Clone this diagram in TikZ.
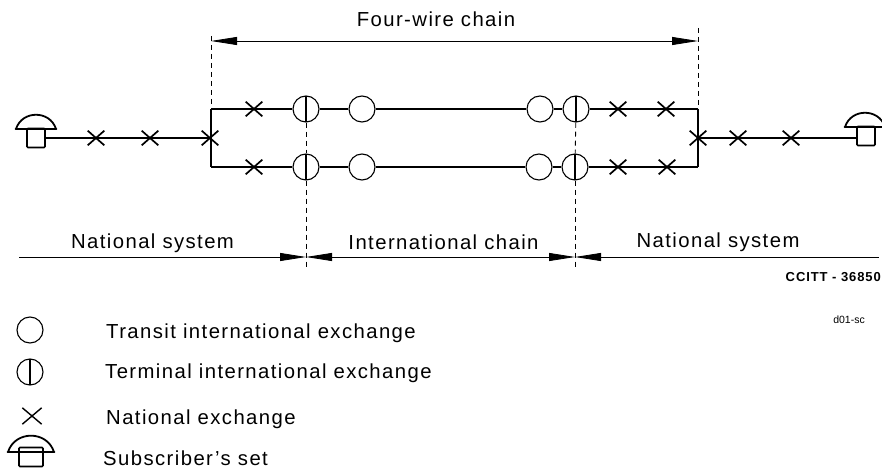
\documentclass[tikz,border=0pt]{standalone}
\usepackage{fontspec}
\setmainfont[LetterSpace=7]{Liberation Sans}
\usetikzlibrary{arrows.meta,shapes.misc}
\tikzset{
  pics/phoneDome/.style={code={
    \draw[line width=1.8pt,line join=round] (-20,7) .. controls (-14,-12) and (14,-12) .. (20,7) -- cycle;
    \draw[line width=2.8pt,line cap=round] (-20,7) -- (-11,7) (11,7) -- (20,7);
  }}
}
\begin{document}
\begin{tikzpicture}
[x=1pt,y=-1pt,
  lineDecorate/.style={-,line width=1.5pt},%
  dashDecorate/.style={-,dashed,line width=0.9pt,dash pattern=on 5pt off 4pt},%
  spanDecorate/.style={line width=0.8pt},%
  spanTip/.style={{Stealth[inset=0pt,length=26pt,width=8pt]}-{Stealth[inset=0pt,length=26pt,width=8pt]}},%
  transitNode/.style={shape=circle,inner sep=0pt,minimum size=26pt,draw,line width=1.1pt},%
  terminalNode/.style={transitNode,path picture={\draw[line width=1.5pt] (path picture bounding box.north) -- (path picture bounding box.south);}},%
  nationalNode/.style={shape=cross out,inner sep=0pt,minimum width=15pt,minimum height=13pt,draw,line width=1.7pt},%
  phoneBody/.style={shape=rectangle,rounded corners=1pt,inner sep=0pt,minimum width=18pt,minimum height=19pt,draw,line width=1.7pt},%
  textDecorate/.style={font=\fontsize{20.3}{24}\selectfont,inner sep=0pt}]
\useasboundingbox (0,0) rectangle (882,470);
%% exchanges on the chain
\foreach \nodename/\x/\y in {
  termTopL/306/109, termBotL/306/167, termTopR/576/109, termBotR/575/167}
{
  \node (\nodename) at (\x,\y) [terminalNode] {};
}
\foreach \nodename/\x/\y in {
  transTopL/362/109, transBotL/362/167, transTopR/540/109, transBotR/539/167}
{
  \node (\nodename) at (\x,\y) [transitNode] {};
}
\foreach \nodename/\x/\y in {
  natA/96/138, natB/150/138, natC/210/138, natD/254/109, natE/254/167,
  natF/618/109, natG/666/109, natH/618/167, natI/667/167,
  natJ/698/138, natK/738/138, natL/791/138}
{
  \node (\nodename) at (\x,\y) [nationalNode] {};
}
%% subscriber sets
\node (phoneL) at (36,138) [phoneBody] {};
\node (phoneR) at (866,136) [phoneBody] {};
\pic at (36,122) {phoneDome};
\pic at (865,120) {phoneDome};
%% free ends and corners
\foreach \nodename/\x/\y in {
  cornerTopL/211/109, cornerBotL/211/167, cornerTopR/698/109, cornerBotR/698/167,
  dashTopL/211/36, dashTopR/698/28, dashBotL/306/270, dashBotR/575/267,
  spanTopL/211/41, spanTopR/698/41, spanBotA/19/257, spanBotB/306/257,
  spanBotC/575/257, spanBotD/879/257}
{
  \coordinate (\nodename) at (\x,\y);
}
%% edges or lines
\path
\foreach \startnode/\endnode in {
  phoneL/natA.center, natA.center/natB.center, natB.center/natC.center,
  cornerTopL/natD.center, natD.center/termTopL, termTopL/transTopL, transTopL/transTopR,
  transTopR/termTopR, termTopR/natF.center, natF.center/natG.center, natG.center/cornerTopR,
  cornerBotL/natE.center, natE.center/termBotL, termBotL/transBotL, transBotL/transBotR,
  transBotR/termBotR, termBotR/natH.center, natH.center/natI.center, natI.center/cornerBotR,
  cornerTopL/cornerBotL, cornerTopR/cornerBotR,
  natJ.center/natK.center, natK.center/natL.center}
{
  (\startnode) edge[lineDecorate] (\endnode)
};
\draw[lineDecorate] (natL.center) -- (natL.center -| phoneR.west);
\path
\foreach \startnode/\endnode in {
  dashTopL/cornerTopL, dashTopR/cornerTopR, termTopL/termBotL, termBotL/dashBotL,
  termTopR/termBotR, termBotR/dashBotR}
{
  (\startnode) edge[dashDecorate] (\endnode)
};
\draw[spanDecorate,spanTip] (spanTopL) -- (spanTopR);
\draw[spanDecorate,spanTip] (spanBotB) -- (spanBotC);
\draw[spanDecorate,-{Stealth[inset=0pt,length=26pt,width=8pt]}] (spanBotA) -- (spanBotB);
\draw[spanDecorate,{Stealth[inset=0pt,length=26pt,width=8pt]}-] (spanBotC) -- (spanBotD);
%% labels
\node (fourWire) at (436,27) [textDecorate,anchor=base] {Four-wire chain};
\node (natLeft) at (152.5,248) [textDecorate,anchor=base] {National system};
\node (intChain) at (443.5,249) [textDecorate,anchor=base] {International chain};
\node (natRight) at (718,247) [textDecorate,anchor=base] {National system};
\node (ccitt) at (881,277) [anchor=east,inner sep=0pt,font=\fontsize{13}{15}\bfseries\selectfont] {CCITT - 36850};
\node (docRef) at (865,320) [anchor=east,inner sep=0pt,font=\fontspec{Liberation Sans}\fontsize{10.5}{12}\selectfont] {d01-sc};
%% legend
\node (keyTransit) at (30,330) [transitNode] {};
\node (keyTerminal) at (30,372) [terminalNode] {};
\node (keyNational) at (32,416) [nationalNode,minimum width=18pt,minimum height=15pt,line width=1.4pt] {};
\node (keyPhone) at (31,457) [phoneBody,minimum width=24pt] {};
\pic[scale=1.15] at (31,444) {phoneDome};
\foreach \nodename/\x/\y/\labeltext in {
  textTransit/106/338/Transit international exchange,
  textTerminal/105/378/Terminal international exchange,
  textNational/106/424/National exchange,
  textPhone/103/465/Subscriber's set}
{
  \node (\nodename) at (\x,\y) [textDecorate,anchor=base west] {\labeltext};
}
\end{tikzpicture}
\end{document}
